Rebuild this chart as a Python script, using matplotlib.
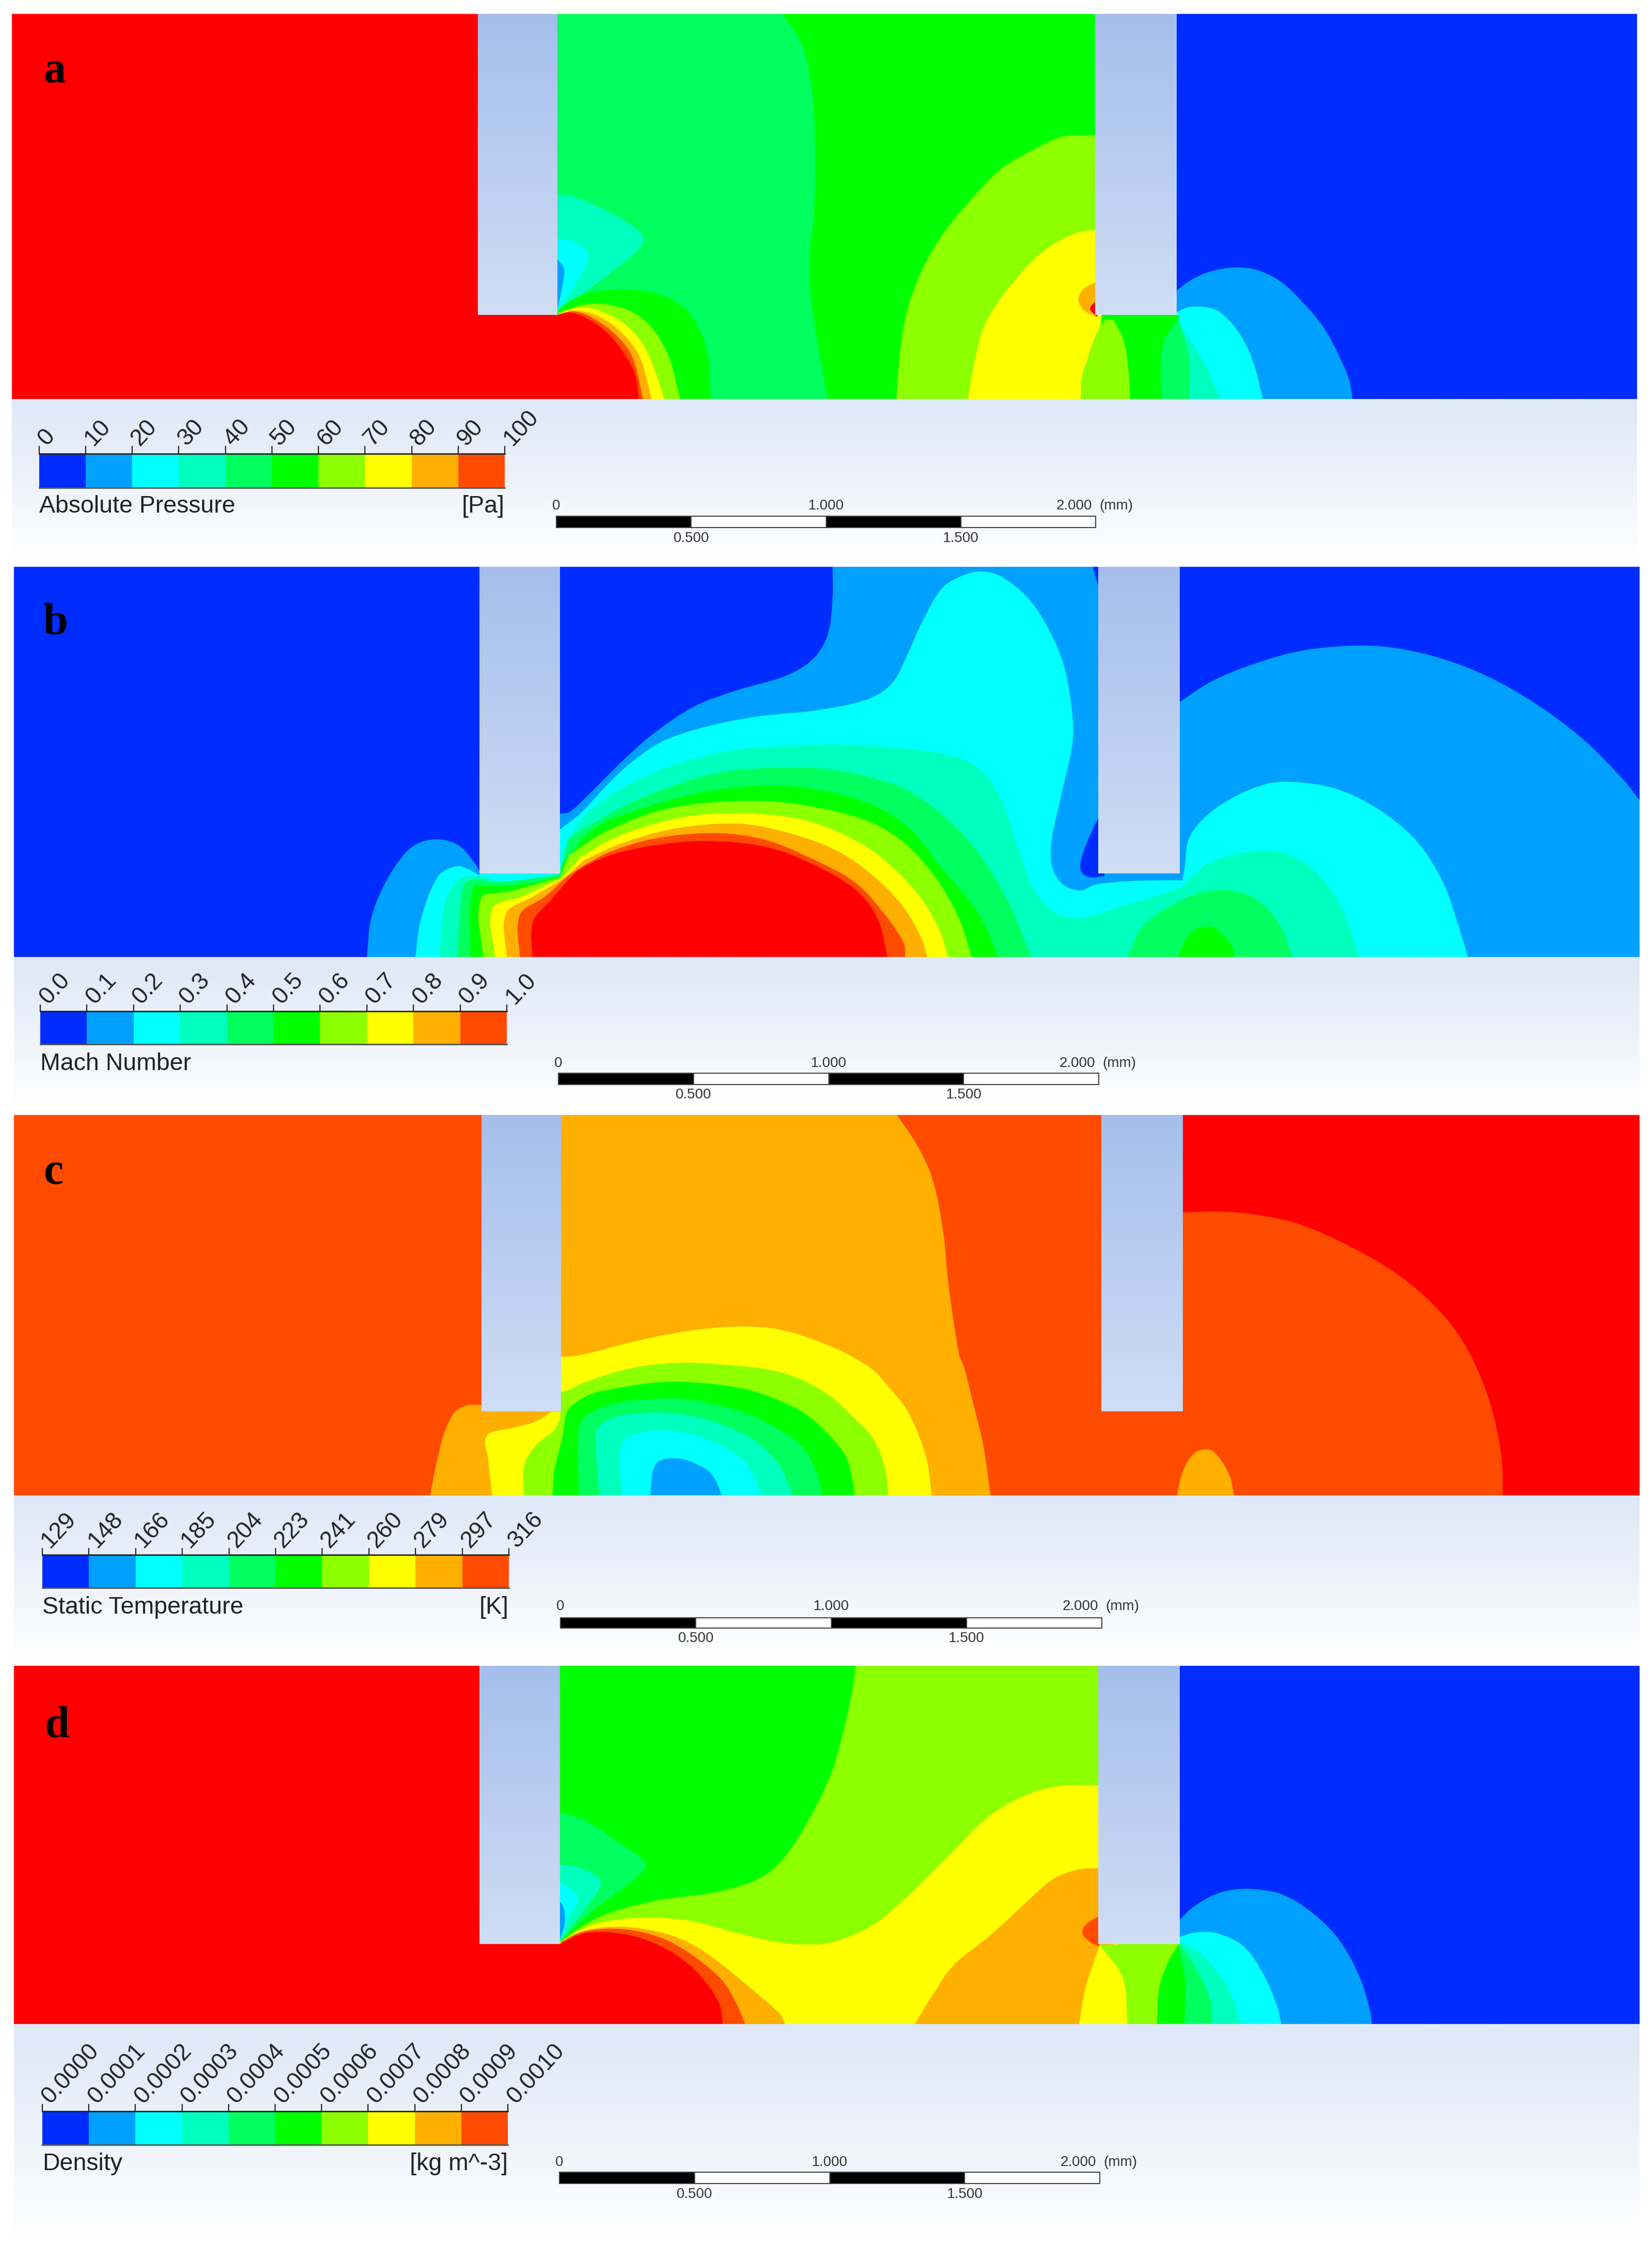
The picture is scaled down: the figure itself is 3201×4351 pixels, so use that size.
import numpy as np
import matplotlib
matplotlib.use("Agg")
import matplotlib.pyplot as plt
from matplotlib.path import Path
from matplotlib.patches import PathPatch, Rectangle

W, H = 3201, 4351
BANDS = ["#002DFF", "#00A0FF", "#00FFFF", "#00FFBE", "#00FF5F", "#00FF00",
         "#8CFF00", "#FFFF00", "#FFAF00", "#FF4B00", "#FF0000"]

TICKS_A = ["0", "10", "20", "30", "40", "50", "60", "70", "80", "90", "100"]
TICKS_B = ["0.0", "0.1", "0.2", "0.3", "0.4", "0.5", "0.6", "0.7", "0.8", "0.9", "1.0"]
TICKS_C = ["129", "148", "166", "185", "204", "223", "241", "260", "279", "297", "316"]
TICKS_D = ["0.0000", "0.0001", "0.0002", "0.0003", "0.0004", "0.0005",
           "0.0006", "0.0007", "0.0008", "0.0009", "0.0010"]
TITLES = ["Absolute Pressure", "Mach Number", "Static Temperature", "Density"]
UNITS = ["[Pa]", "", "[K]", "[kg m^-3]"]
LETTERS = ["a", "b", "c", "d"]
SCALE_TOP = ["0", "1.000", "2.000"]
SCALE_LOW = ["0.500", "1.500"]
SCALE_UNIT = "(mm)"

# Contour bands: (band index, [smooth chains joined by straight edges]).
REGIONS_A = [
    (4, [[(528, 39)], [(1116, 39)], [(1116, 1112)], [(528, 1112)]]),
    (5, [[(742, 39), (760, 120), (770, 250), (773, 400), (772, 600), (768, 700), (768, 800), (775, 950), (785, 1112)],
         [(1045, 1112)], [(1045, 39)]]),
    (6, [[(850, 1112), (855, 950), (862, 850), (875, 750), (895, 650), (920, 560), (950, 470), (985, 410), (1010, 380), (1045, 376)],
         [(1045, 1112)]]),
    (7, [[(918, 1112), (925, 1000), (935, 900), (960, 790), (990, 700), (1020, 650), (1045, 638)],
         [(1045, 885)], [(1039, 960), (1027, 1040), (1025, 1112)]]),
    (8, [[(1041, 784), (1028, 805), (1023, 835), (1028, 865), (1040, 884)]]),
    (10, [[(1041, 835), (1034, 860), (1041, 884)]]),
    (3, [[(528, 540), (545, 550), (570, 580), (595, 620), (610, 665), (600, 710), (570, 780), (540, 845), (528, 872)]]),
    (2, [[(528, 665), (545, 675), (558, 710), (550, 770), (535, 840), (528, 872)]]),
    (1, [[(528, 720), (535, 750), (533, 800), (528, 872)]]),
    (5, [[(528, 868), (540, 840), (560, 815), (595, 807), (625, 820), (650, 860), (665, 930), (672, 1000), (674, 1112)], [(500, 1112)]]),
    (6, [[(530, 870), (555, 848), (575, 848), (600, 870), (620, 920), (635, 1000), (645, 1112)], [(500, 1112)]]),
    (7, [[(532, 872), (548, 858), (565, 862), (590, 898), (610, 960), (622, 1040), (630, 1112)], [(500, 1112)]]),
    (8, [[(532, 874), (545, 865), (565, 878), (587, 920), (606, 990), (618, 1112)], [(500, 1112)]]),
    (9, [[(532, 874), (545, 868), (560, 883), (581, 925), (599, 990), (610, 1112)], [(500, 1112)]]),
    (10, [[(11, 39)], [(528, 39)], [(528, 878), (540, 871), (555, 885), (575, 925), (593, 990), (603, 1050), (606, 1112)], [(11, 1112)]]),
    (0, [[(1116, 39)], [(1553, 39)], [(1553, 1112)], [(1116, 1112)]]),
    (1, [[(1116, 1112)], [(1116, 810), (1130, 780), (1150, 755), (1175, 745), (1195, 755), (1215, 785), (1235, 840), (1255, 910), (1270, 990), (1280, 1060), (1283, 1112)]]),
    (2, [[(1116, 1112)], [(1116, 870), (1130, 855), (1150, 860), (1165, 890), (1180, 950), (1190, 1020), (1198, 1112)]]),
    (3, [[(1090, 1112)], [(1090, 895)], [(1118, 900), (1140, 1000), (1158, 1112)]]),
    (4, [[(1090, 1112)], [(1090, 880)], [(1118, 890), (1128, 1000), (1128, 1112)]]),
    (5, [[(1045, 1112)], [(1045, 878)], [(1118, 878), (1118, 887), (1110, 921), (1104, 950), (1101, 1021), (1102, 1112)]]),
    (6, [[(1056, 890), (1066, 950), (1071, 1050), (1072, 1112)], [(1026, 1112), (1030, 1020), (1040, 930), (1048, 892)]]),
]

REGIONS_B_UPPER = [
    (0, [[(13, 12)], [(1556, 12)], [(1556, 1130)], [(13, 1130)]]),
    (1, [[(348, 1130), (352, 1020), (365, 920), (385, 830), (400, 800), (417, 793), (435, 810), (450, 860), (456, 890)],
         [(531, 720), (540, 715), (560, 660), (590, 570), (620, 490), (660, 410), (700, 365), (745, 325), (770, 280), (785, 210), (790, 100), (790, 12)],
         [(1080, 12)],
         [(1119, 400), (1150, 340), (1190, 290), (1240, 250), (1300, 238), (1350, 260), (1400, 310), (1450, 390), (1500, 500), (1540, 620), (1556, 680)],
         [(1556, 1130)]]),
    (0, [[(1048, 700), (1036, 770), (1027, 840), (1026, 885), (1035, 902), (1048, 898)]]),
    (0, [[(1037, 12), (1042, 65)], [(1048, 12)]]),
    (2, [[(394, 1130), (399, 1025), (416, 897), (433, 870), (444, 878), (454, 895)],
         [(531, 765), (550, 720), (575, 640), (600, 570), (630, 510), (670, 470), (720, 440), (770, 425), (820, 395), (845, 350), (860, 270), (875, 170), (895, 70), (915, 35), (932, 25), (950, 40), (975, 100), (995, 190), (1010, 300), (1018, 450), (1017, 532), (1006, 680), (997, 828), (1004, 907), (1023, 939), (1040, 922), (1074, 912), (1122, 910)],
         [(1124, 877), (1130, 779), (1158, 695), (1203, 633), (1235, 630), (1270, 650), (1310, 710), (1345, 800), (1370, 920), (1385, 1050), (1393, 1130)]]),
    (3, [[(417, 1130), (422, 976), (436, 907), (453, 897), (472, 912), (500, 907), (530, 892)],
         [(531, 877), (540, 789), (568, 690), (624, 597), (680, 545), (720, 530), (790, 521), (850, 530), (905, 555), (931, 597), (950, 680), (967, 828), (984, 951), (1006, 1011), (1023, 1018), (1040, 1008), (1074, 976), (1119, 932), (1130, 902), (1153, 853), (1192, 826), (1220, 833), (1250, 890), (1275, 1000), (1290, 1130)]]),
    (4, [[(1070, 1130), (1085, 1040), (1110, 985), (1135, 950), (1162, 938), (1190, 960), (1215, 1040), (1226, 1130)]]),
    (5, [[(1118, 1130), (1125, 1080), (1135, 1050), (1148, 1043), (1158, 1060), (1168, 1095), (1172, 1130)]]),
]

REGIONS_B_JET = [
    (4, [[(162, 1215), (170, 840), (185, 765), (225, 775), (280, 760), (335, 730)],
         [(350, 520), (440, 340), (540, 200), (620, 130), (720, 112), (800, 125), (900, 210), (960, 330), (1010, 480), (1060, 700), (1100, 950), (1130, 1215)]]),
    (5, [[(183, 1215), (190, 800), (225, 800), (280, 785), (335, 745)],
         [(340, 670), (400, 450), (520, 300), (620, 230), (710, 215), (800, 260), (870, 340), (930, 480), (980, 700), (1040, 950), (1075, 1215)]]),
    (6, [[(205, 1215), (203, 860), (250, 830), (335, 750)],
         [(350, 620), (420, 470), (530, 340), (675, 305), (780, 350), (860, 430), (920, 560), (975, 780), (1010, 1000), (1030, 1215)]]),
    (7, [[(225, 1215), (222, 920), (270, 860), (340, 750)],
         [(370, 630), (440, 500), (550, 395), (650, 378), (740, 410), (820, 510), (880, 640), (940, 850), (975, 1050), (990, 1215)]]),
    (8, [[(245, 1215), (245, 950), (290, 860), (345, 745)],
         [(375, 650), (440, 550), (530, 465), (635, 437), (720, 490), (800, 590), (860, 730), (910, 900), (945, 1100), (955, 1215)]]),
    (9, [[(267, 1215), (268, 960), (310, 860), (345, 750)],
         [(370, 690), (420, 600), (500, 520), (600, 492), (680, 530), (760, 640), (830, 770), (880, 950), (915, 1130), (918, 1215)]]),
    (10, [[(288, 1215), (290, 1000), (320, 880), (345, 780), (370, 700), (420, 620), (490, 565), (580, 537), (680, 570), (760, 670), (830, 810), (870, 980), (888, 1215)]]),
]

REGIONS_C = [
    (9, [[(13, 15)], [(1556, 15)], [(1556, 1105)], [(13, 1105)]]),
    (10, [[(1100, 15)], [(1556, 15)], [(1556, 1105)],
          [(1426, 1105), (1425, 1000), (1415, 850), (1395, 700), (1370, 590), (1330, 480), (1280, 390), (1230, 325), (1190, 300), (1155, 292), (1100, 297)]]),
    (8, [[(500, 15)], [(851, 15), (870, 100), (885, 200), (895, 350), (900, 500), (910, 700), (915, 740), (924, 848), (933, 961), (940, 1105)],
         [(408, 1105), (415, 1000), (425, 900), (440, 850), (470, 845)]]),
    (7, [[(520, 710), (550, 703), (600, 665), (650, 635), (700, 621), (740, 630), (790, 680), (826, 740), (843, 794), (859, 853), (871, 927), (880, 1011), (884, 1105)],
         [(467, 1105), (463, 1000), (463, 930), (490, 909), (505, 897), (516, 880), (523, 865)]]),
    (8, [[(823, 1105)], [(823, 1105)]]),
    (8, [[(1117, 1105), (1122, 1040), (1133, 985), (1145, 973), (1155, 990), (1167, 1050), (1171, 1105)]]),
]

REGIONS_C_COLD = [
    (6, [[(60, 140), (137, 140), (200, 90), (300, 25), (400, -15), (513, -30), (650, -15), (750, 5), (850, 55), (950, 160), (1020, 280), (1080, 400), (1110, 520), (1125, 640), (1130, 740)],
         [(22, 740), (25, 560), (60, 450), (110, 370), (130, 310), (135, 255)], [(60, 255)]]),
    (5, [[(110, 740), (115, 600), (140, 400), (150, 280), (165, 225), (230, 150), (300, 120), (400, 90), (490, 80), (600, 95), (700, 125), (800, 190), (880, 270), (950, 390), (1000, 510), (1020, 640), (1028, 740)]]),
    (4, [[(190, 740), (188, 400), (200, 300), (250, 235), (330, 195), (420, 180), (500, 180), (600, 210), (700, 265), (800, 360), (870, 460), (910, 600), (930, 740)]]),
    (3, [[(252, 740), (240, 400), (250, 340), (300, 285), (380, 262), (470, 262), (570, 295), (650, 350), (730, 430), (800, 570), (840, 740)]]),
    (2, [[(320, 740), (315, 480), (335, 410), (390, 370), (470, 365), (560, 400), (640, 470), (700, 560), (745, 740)]]),
    (1, [[(407, 740), (415, 600), (435, 540), (480, 525), (530, 545), (590, 610), (625, 740)]]),
]

REGIONS_D = [
    (6, [[(500, 23)], [(1130, 23)], [(1130, 977)], [(500, 977)]]),
    (5, [[(500, 23)], [(812, 23), (808, 100), (800, 200), (790, 300), (770, 420), (745, 530), (720, 590), (680, 625), (620, 650), (570, 690), (531, 757)], [(500, 757)]]),
    (4, [[(520, 413), (531, 413), (555, 435), (585, 490), (612, 550), (600, 595), (565, 670), (531, 757)], [(520, 757)]]),
    (3, [[(520, 552), (531, 552), (555, 565), (570, 600), (560, 650), (531, 757)], [(520, 757)]]),
    (2, [[(520, 600), (531, 600), (548, 640), (540, 690), (531, 755)], [(520, 757)]]),
    (1, [[(520, 650), (531, 650), (536, 700), (531, 755)], [(520, 757)]]),
    (7, [[(531, 760), (560, 715), (600, 695), (650, 700), (700, 735), (740, 760), (775, 765), (800, 750), (830, 710), (860, 640), (900, 530), (940, 420), (980, 360), (1010, 342), (1060, 342)],
         [(1060, 764)], [(1075, 977)], [(500, 977)]]),
    (8, [[(868, 977), (885, 900), (905, 820), (940, 740), (975, 650), (1000, 590), (1025, 565), (1060, 562)],
         [(1060, 764)], [(1043, 770), (1030, 880), (1024, 977)]]),
    (9, [[(1048, 682), (1032, 708), (1027, 735), (1035, 760), (1043, 770)]]),
    (6, [[(1043, 766), (1065, 850), (1070, 977)], [(1130, 977)], [(1130, 766)]]),
    (0, [[(1119, 23)], [(1556, 23)], [(1556, 977)], [(1119, 977)]]),
    (1, [[(1119, 977)], [(1119, 700), (1135, 660), (1160, 625), (1185, 617), (1215, 630), (1245, 680), (1270, 750), (1290, 850), (1300, 940), (1302, 977)]]),
    (2, [[(1119, 977)], [(1119, 745), (1135, 733), (1155, 735), (1180, 770), (1200, 850), (1212, 930), (1216, 977)]]),
    (3, [[(1112, 977)], [(1119, 755), (1140, 790), (1165, 880), (1178, 977)]]),
    (4, [[(1112, 977)], [(1119, 762), (1135, 830), (1148, 910), (1150, 977)]]),
    (5, [[(1098, 977), (1100, 880), (1108, 815), (1118, 765)], [(1125, 860), (1124, 977)]]),
    (8, [[(531, 760), (555, 728), (590, 718), (630, 735), (660, 770), (690, 830), (720, 900), (740, 950), (745, 977)], [(500, 977)]]),
    (9, [[(533, 757), (555, 730), (590, 724), (625, 745), (655, 790), (685, 860), (700, 930), (707, 977)], [(500, 977)]]),
    (10, [[(13, 23)], [(531, 23)], [(531, 764), (555, 735), (580, 733), (610, 750), (640, 790), (665, 850), (682, 920), (686, 977)], [(13, 977)]]),
]

# Panel frames: pixel box, read-coordinate box, wall spans in read coordinates.
PANELS = [
    dict(box=(23, 27, 3172, 773), lim=(11, 1553, 1112, 39), walls=[(453, 528), (1039, 1116)], wall_end=878,
         bar=(75.5, 978, 879, 945, 865), title_y=981, scale=(1078, 2123, 1000, 1022), top_y=980, low_y=1043, letter=(106, 139)),
    dict(box=(27, 1098, 3177, 1854), lim=(13, 1556, 1130, 12), walls=[(455, 531), (1042, 1119)], wall_end=891,
         bar=(78, 982, 1959, 2023, 1947), title_y=2061, scale=(1082, 2129, 2079, 2101), top_y=2060, low_y=2121, letter=(108, 1207)),
    dict(box=(27, 2160, 3177, 2897), lim=(13, 1556, 1105, 15), walls=[(457, 532), (1045, 1122)], wall_end=864,
         bar=(82, 986, 3012, 3076, 3000), title_y=3114, scale=(1086, 2135, 3134, 3154), top_y=3112, low_y=3174, letter=(104, 2273)),
    dict(box=(27, 3227, 3177, 3921), lim=(13, 1556, 977, 23), walls=[(455, 531), (1042, 1119)], wall_end=764,
         bar=(82, 984, 4090, 4155, 4077), title_y=4192, scale=(1084, 2131, 4208, 4230), top_y=4189, low_y=4251, letter=(110, 3345)),
]
LEGEND_BOTTOM = [1098, 2160, 3227, 4351]


def crop_to_panel_b(points):
    return [(342.9 + 0.5623 * x, 532.5 + 0.493 * y) for x, y in points]


def crop_to_panel_c(points):
    return [(489.8 + 0.3125 * x, 739.6 + 0.493 * y) for x, y in points]


def region_path(chains):
    verts, codes = [], []
    for chain in chains:
        p = np.array(chain, float)
        verts.append(p[0])
        codes.append(Path.MOVETO if not codes else Path.LINETO)
        n = len(p)
        if n < 2:
            continue
        tang = np.zeros_like(p)
        for i in range(n):
            d = p[min(i + 1, n - 1)] - p[max(i - 1, 0)]
            tang[i] = d / max(np.hypot(*d), 1e-9)
        for i in range(n - 1):
            s = np.hypot(*(p[i + 1] - p[i])) / 3
            verts += [p[i] + tang[i] * s, p[i + 1] - tang[i + 1] * s, p[i + 1]]
            codes += [Path.CURVE4] * 3
    verts.append(verts[0])
    codes.append(Path.CLOSEPOLY)
    return Path(np.array(verts), codes)


def paint(ax, regions):
    for band, chains in regions:
        ax.add_patch(PathPatch(region_path(chains), facecolor=BANDS[band], edgecolor="none", lw=0))


SANS = "Liberation Sans"
fig = plt.figure(figsize=(W / 100, H / 100), dpi=100, facecolor="white")
page = fig.add_axes([0, 0, 1, 1])
page.set_axis_off()

panel_regions = [REGIONS_A,
                 REGIONS_B_UPPER + [(b, [crop_to_panel_b(c) for c in ch]) for b, ch in REGIONS_B_JET],
                 REGIONS_C + [(b, [crop_to_panel_c(c) for c in ch]) for b, ch in REGIONS_C_COLD],
                 REGIONS_D]
all_ticks = [TICKS_A, TICKS_B, TICKS_C, TICKS_D]

for i, pn in enumerate(PANELS):
    x0, y0, x1, y1 = pn["box"]
    # legend backdrop
    grad = np.linspace(0, 1, 256).reshape(-1, 1) ** 1.1
    top = np.array([222, 232, 247]) / 255
    img = (top + (1 - top) * grad[..., None])
    page.imshow(img, extent=(x0, x1, LEGEND_BOTTOM[i] - 15, y1), aspect="auto", zorder=0, interpolation="bilinear")

    ax = fig.add_axes([x0 / W, 1 - y1 / H, (x1 - x0) / W, (y1 - y0) / H])
    ax.set_axis_off()
    lx0, lx1, ly1, ly0 = pn["lim"]
    paint(ax, panel_regions[i])
    wall_top = np.array([165, 190, 235]) / 255
    wall_low = np.array([208, 222, 245]) / 255
    t = np.linspace(0, 1, 256).reshape(-1, 1, 1)
    wall_img = wall_top + (wall_low - wall_top) * t
    for wa, wb in pn["walls"]:
        ax.imshow(wall_img, extent=(wa, wb, pn["wall_end"], ly0), aspect="auto", zorder=5, interpolation="bilinear")
    ax.set_xlim(lx0, lx1)
    ax.set_ylim(ly1, ly0)

    # colour bar
    bx0, bx1, by0, by1, ty = pn["bar"]
    edges = np.linspace(bx0, bx1, 11)
    for k in range(10):
        page.add_patch(Rectangle((edges[k], by0), edges[k + 1] - edges[k], by1 - by0,
                                 facecolor=BANDS[k], edgecolor="none", zorder=2))
    page.plot([bx0, bx1], [by0, by0], color="#222222", lw=2, zorder=3)
    page.plot([bx0, bx1], [by1, by1], color="#555555", lw=2, zorder=3)
    for k, lab in enumerate(all_ticks[i]):
        page.plot([edges[k]] * 2, [ty, by0], color="#222222", lw=1.6, zorder=3)
        page.text(edges[k] + 6, ty - 8, lab, rotation=47, rotation_mode="anchor", ha="left", va="center",
                  fontsize=33, family=SANS, color="#222222", zorder=4)
    page.text(bx0, pn["title_y"], TITLES[i], ha="left", va="center", fontsize=33.5, family=SANS, color="#222222", zorder=4)
    if UNITS[i]:
        page.text(bx1, pn["title_y"], UNITS[i], ha="right", va="center", fontsize=33.5, family=SANS, color="#222222", zorder=4)

    # scale bar
    sx0, sx1, sy0, sy1 = pn["scale"]
    sedges = np.linspace(sx0, sx1, 5)
    for k in range(4):
        page.add_patch(Rectangle((sedges[k], sy0), sedges[k + 1] - sedges[k], sy1 - sy0,
                                 facecolor="black" if k % 2 == 0 else "white", edgecolor="#444444", lw=1.5, zorder=2))
    tc = "#333333"
    page.text(sx0, pn["top_y"], SCALE_TOP[0], ha="center", va="center", fontsize=20, family=SANS, color=tc)
    page.text(sedges[2], pn["top_y"], SCALE_TOP[1], ha="center", va="center", fontsize=20, family=SANS, color=tc)
    page.text(sx1 - 7, pn["top_y"], SCALE_TOP[2], ha="right", va="center", fontsize=20, family=SANS, color=tc)
    page.text(sx1 + 7, pn["top_y"], SCALE_UNIT, ha="left", va="center", fontsize=20, family=SANS, color=tc)
    page.text(sedges[1], pn["low_y"], SCALE_LOW[0], ha="center", va="center", fontsize=20, family=SANS, color=tc)
    page.text(sedges[3], pn["low_y"], SCALE_LOW[1], ha="center", va="center", fontsize=20, family=SANS, color=tc)

    # panel letter, on top of the contour panel
    fig.text(pn["letter"][0] / W, 1 - pn["letter"][1] / H, LETTERS[i], ha="center", va="center",
             fontsize=62, family="Liberation Serif", fontweight="bold", color="black", zorder=10)

page.set_xlim(0, W)
page.set_ylim(H, 0)
fig.savefig("out.png", dpi=100, facecolor="white")
